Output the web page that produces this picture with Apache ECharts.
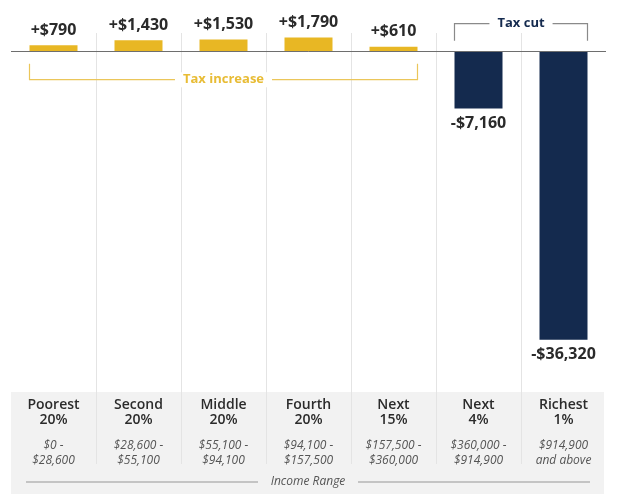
<!DOCTYPE html>
<html>
<head>
<meta charset="utf-8">
<script src="https://cdn.jsdelivr.net/npm/echarts@6/dist/echarts.min.js"></script>
<style>html,body{margin:0;padding:0;background:#fff}#c{width:619px;height:494px}</style>
</head>
<body>
<div id="c"></div>
<script>
const groupNames = ['Poorest', 'Second', 'Middle', 'Fourth', 'Next', 'Next', 'Richest'];
const groupShares = ['20%', '20%', '20%', '20%', '15%', '4%', '1%'];
const rangeLow = ['$0 -', '$28,600 -', '$55,100 -', '$94,100 -', '$157,500 -', '$360,000 -', '$914,900'];
const rangeHigh = ['$28,600', '$55,100', '$94,100', '$157,500', '$360,000', '$914,900', 'and above'];
const taxChange = [790, 1430, 1530, 1790, 610, -7160, -36320];
const increaseLabel = 'Tax increase';
const cutLabel = 'Tax cut';
const axisTitle = 'Income Range';

const categories = groupNames.map((n, i) => n + ' ' + groupShares[i]);
const YELLOW = '#E8B724';
const NAVY = '#142A4E';
const FONT = '"Open Sans", sans-serif';

const chart = echarts.init(document.getElementById('c'), null, {renderer: 'canvas'});

function fmt(v) {
  const s = '$' + Math.abs(v).toLocaleString('en-US');
  return (v >= 0 ? '+' : '-') + s;
}

const option = {
  animation: false,
  grid: {left: 11, right: 13, top: 33, bottom: 30, containLabel: false},
  xAxis: {
    type: 'category',
    data: categories,
    position: 'bottom',
    offset: -72,
    axisLine: {show: false},
    axisTick: {show: false},
    splitLine: {show: true, interval: 0, showMinLine: false, showMaxLine: false, lineStyle: {color: '#e4e4e4', width: 1}},
    axisLabel: {
      interval: 0,
      margin: 6,
      formatter: function (val, idx) {
        return '{b|' + groupNames[idx] + '}\n{b|' + groupShares[idx] + '}\n{s|}\n{i|' + rangeLow[idx] + '}\n{i|' + rangeHigh[idx] + '}';
      },
      rich: {
        b: {fontFamily: FONT, fontSize: 14, fontWeight: 600, color: '#2b2b2b', lineHeight: 15, align: 'center'},
        s: {lineHeight: 10, height: 10},
        i: {fontFamily: FONT, fontSize: 12, fontStyle: 'italic', color: '#555', lineHeight: 15, align: 'center'}
      }
    }
  },
  yAxis: {
    type: 'value',
    min: -52000,
    max: 2350,
    show: false,
    splitLine: {show: false}
  },
  series: [{
    type: 'bar',
    data: taxChange,
    barWidth: 48,
    itemStyle: {
      color: function (p) { return p.value >= 0 ? YELLOW : NAVY; }
    },
    label: {
      show: true,
      position: 'top',
      distance: 7,
      fontFamily: FONT,
      fontSize: 16,
      fontWeight: 'bold',
      color: '#2a2a2a',
      formatter: function (p) { return fmt(p.value); }
    },
    markLine: {
      silent: true,
      symbol: 'none',
      label: {show: false},
      lineStyle: {color: '#6e6e6e', type: 'solid', width: 1},
      data: [{yAxis: 0}]
    }
  }]
};
// negative bars: label below
option.series[0].data = taxChange.map(v => v < 0 ? {value: v, label: {position: 'bottom'}} : v);
chart.setOption(option);

// annotations placed from the axis scales
const px = (i, v) => chart.convertToPixel({gridIndex: 0}, [i, v]);
const half = 24;
const x0 = px(0, 0)[0] - half;
const x4 = px(4, 0)[0] + half;
const x5 = px(5, 0)[0] - half;
const x6 = px(6, 0)[0] + half;
const zeroY = px(0, 0)[1];
const incY = zeroY + 28, incTop = zeroY + 12;
const cutY = zeroY - 28, cutBot = zeroY - 11;

chart.setOption({
  graphic: [
    {type: 'rect', z: -10, shape: {x: 11, y: 392, width: 593, height: 102}, style: {fill: '#f2f2f2'}},
    {type: 'polyline', z: 10, shape: {points: [[x0, incTop], [x0, incY], [x4, incY], [x4, incTop]]}, style: {stroke: '#EBC65A', lineWidth: 1.2, fill: null}},
    {type: 'text', z: 11, x: (x0 + x4) / 2, y: incY, style: {text: increaseLabel, fill: '#E8BC35', font: 'bold 13px ' + FONT, align: 'center', verticalAlign: 'middle', backgroundColor: '#fff', padding: [1, 8]}},
    {type: 'polyline', z: 10, shape: {points: [[x5, cutBot], [x5, cutY], [x6, cutY], [x6, cutBot]]}, style: {stroke: '#8a8a8a', lineWidth: 1.2, fill: null}},
    {type: 'text', z: 11, x: (x5 + x6) / 2, y: cutY, style: {text: cutLabel, fill: NAVY, font: 'bold 13px ' + FONT, align: 'center', verticalAlign: 'middle', backgroundColor: '#fff', padding: [1, 8]}},
    {type: 'line', z: 5, shape: {x1: 26, y1: 482, x2: 258, y2: 482}, style: {stroke: '#c4c4c4', lineWidth: 2}},
    {type: 'line', z: 5, shape: {x1: 358, y1: 482, x2: 590, y2: 482}, style: {stroke: '#c4c4c4', lineWidth: 2}},
    {type: 'text', z: 6, x: 308, y: 482, style: {text: axisTitle, fill: '#555', font: 'italic 12px ' + FONT, align: 'center', verticalAlign: 'middle'}}
  ]
});
</script>
</body>
</html>
